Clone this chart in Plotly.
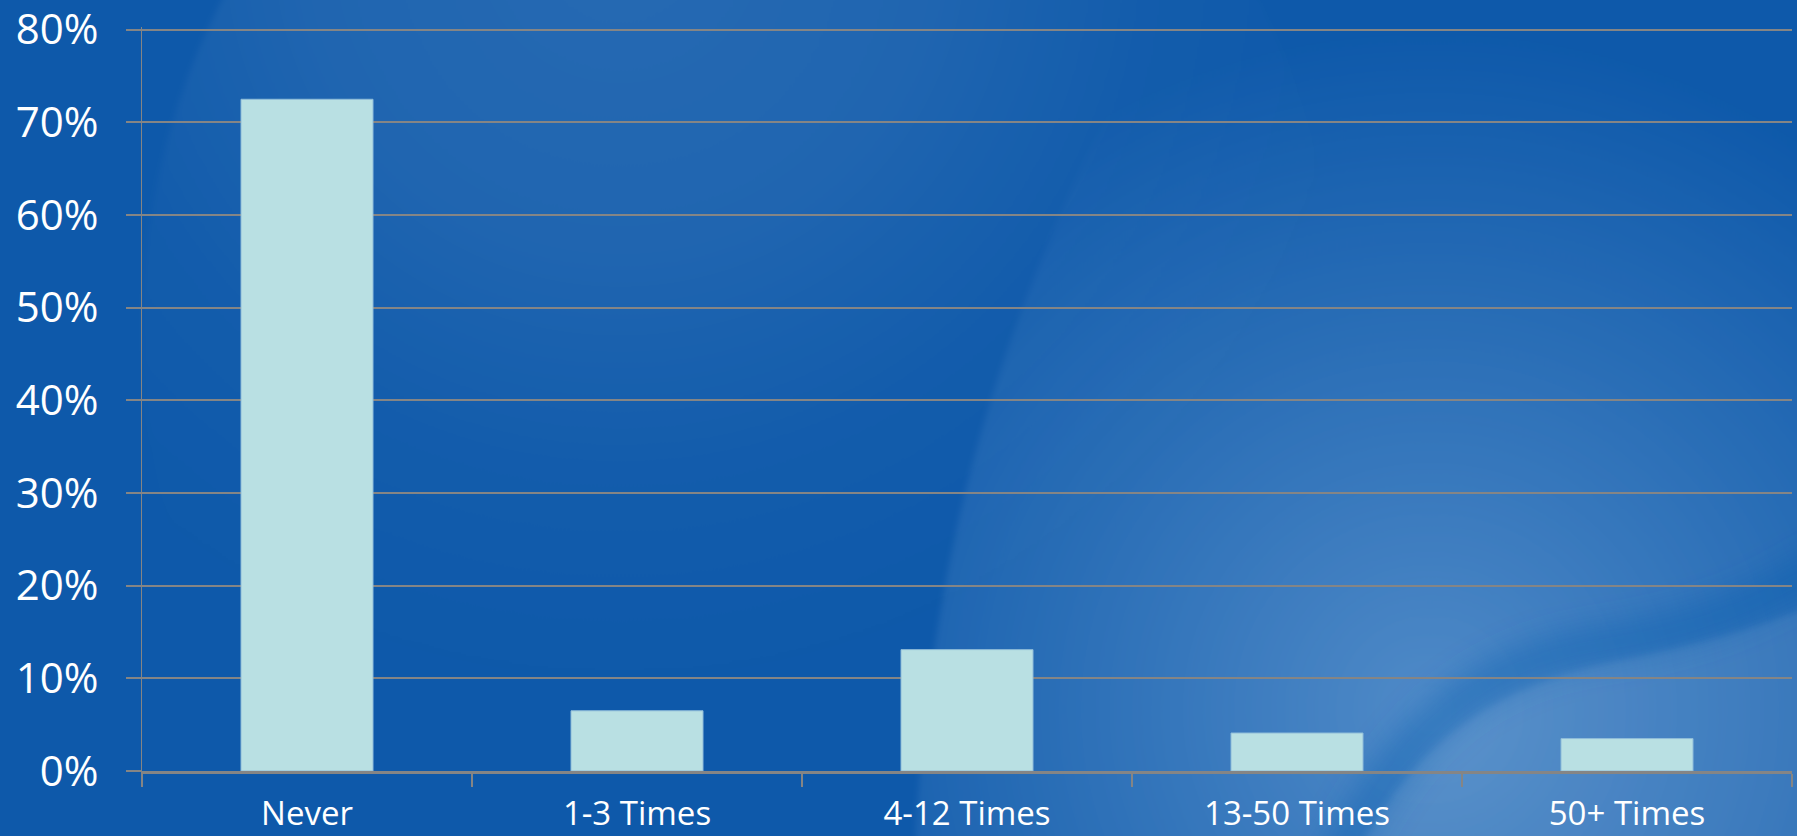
import base64
import plotly.graph_objects as go

# Survey responses: share of respondents per frequency bucket
categories = ["Never", "1-3 Times", "4-12 Times", "13-50 Times", "50+ Times"]
shares = [0.725, 0.065, 0.131, 0.041, 0.035]
y_ticks = [0.0, 0.1, 0.2, 0.3, 0.4, 0.5, 0.6, 0.7, 0.8]
y_max = 0.803  # a hair above 80% so the top gridline is drawn

W, H = 1797, 836
M_L, M_R, M_T, M_B = 142, 5, 27, 65
plot_w = W - M_L - M_R
plot_h = H - M_T - M_B

# Slide-style blue backdrop with soft light swirls
backdrop_svg = f"""<svg xmlns="http://www.w3.org/2000/svg" width="{W}" height="{H}" viewBox="0 0 {W} {H}">
<defs>
  <radialGradient id="ul" cx="620" cy="-60" r="760" gradientUnits="userSpaceOnUse">
    <stop offset="0" stop-color="#ffffff" stop-opacity="0.10"/>
    <stop offset="0.4" stop-color="#ffffff" stop-opacity="0.075"/>
    <stop offset="0.7" stop-color="#ffffff" stop-opacity="0.02"/>
    <stop offset="1" stop-color="#ffffff" stop-opacity="0"/>
  </radialGradient>
  <radialGradient id="lr" cx="1430" cy="710" r="680" gradientUnits="userSpaceOnUse">
    <stop offset="0" stop-color="#9cc4ea" stop-opacity="0.46"/>
    <stop offset="0.55" stop-color="#9cc4ea" stop-opacity="0.2"/>
    <stop offset="1" stop-color="#9cc4ea" stop-opacity="0"/>
  </radialGradient>
  <filter id="soft" x="-20%" y="-20%" width="140%" height="140%"><feGaussianBlur stdDeviation="3"/></filter>
  <filter id="softer" x="-20%" y="-20%" width="140%" height="140%"><feGaussianBlur stdDeviation="14"/></filter>
</defs>
<rect x="-50" y="-50" width="{W + 100}" height="{H + 100}" fill="#0E59AA"/>
<ellipse cx="740" cy="330" rx="598" ry="660" fill="url(#ul)" filter="url(#soft)"/>
<path d="M1190,-60 C1040,250 930,450 912,900 L1900,900 L1900,-60 Z" fill="url(#lr)" filter="url(#soft)"/>
<path d="M1320,900 C1390,740 1470,665 1600,645 C1700,630 1760,605 1830,560" fill="none" stroke="#0F5AAB" stroke-opacity="0.35" stroke-width="40" filter="url(#softer)"/>
<path d="M1335,900 C1400,750 1480,690 1620,660 C1710,642 1770,625 1850,590 L1900,900 Z" fill="#ffffff" fill-opacity="0.07" filter="url(#soft)"/>
</svg>"""
backdrop_uri = "data:image/svg+xml;base64," + base64.b64encode(backdrop_svg.encode()).decode()

grid_color = "#858585"

fig = go.Figure(
    go.Bar(
        x=categories,
        y=shares,
        width=0.4,
        marker=dict(color="#B9E0E3", line=dict(color="#8FBCD9", width=1)),
        hoverinfo="skip",
    )
)

fig.add_layout_image(
    dict(
        source=backdrop_uri,
        xref="paper",
        yref="paper",
        x=-M_L / plot_w,
        y=1 + M_T / plot_h,
        sizex=W / plot_w,
        sizey=H / plot_h,
        xanchor="left",
        yanchor="top",
        sizing="stretch",
        layer="below",
    )
)

fig.update_layout(
    width=W,
    height=H,
    margin=dict(l=M_L, r=M_R, t=M_T, b=M_B, autoexpand=False),
    paper_bgcolor="#0E59AA",
    plot_bgcolor="rgba(0,0,0,0)",
    showlegend=False,
    font=dict(family="Open Sans, Noto Sans, sans-serif", color="#FFFFFF"),
)

fig.update_xaxes(
    type="category",
    automargin=False,
    tickson="boundaries",
    ticks="outside",
    ticklen=13,
    tickwidth=1.5,
    tickcolor=grid_color,
    showline=True,
    linecolor=grid_color,
    linewidth=2.5,
    showgrid=False,
    tickfont=dict(size=33, color="#FFFFFF"),
    ticklabelstandoff=12,
    ticklabeloverflow="allow",
    range=[-0.5, len(categories) - 0.5],
)

fig.update_yaxes(
    automargin=False,
    range=[0, y_max],
    tickvals=y_ticks,
    tickformat=".0%",
    ticks="outside",
    ticklen=15,
    tickwidth=2,
    tickcolor=grid_color,
    showline=True,
    linecolor=grid_color,
    linewidth=1.2,
    showgrid=True,
    gridcolor=grid_color,
    gridwidth=2,
    zeroline=False,
    tickfont=dict(size=42, color="#FFFFFF"),
    ticklabelstandoff=19,
    ticklabeloverflow="allow",
)

fig.write_html("out.html")
